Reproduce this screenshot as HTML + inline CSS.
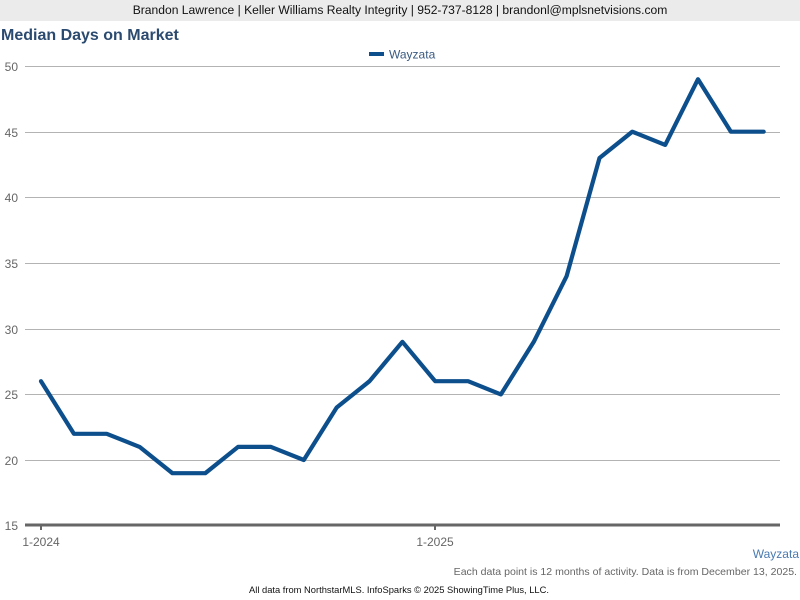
<!DOCTYPE html>
<html><head><meta charset="utf-8"><style>
html,body{margin:0;padding:0;background:#fff;}
body{width:800px;height:600px;overflow:hidden;position:relative;font-family:"Liberation Sans",Arial,sans-serif;}
.hdr{position:absolute;left:0;top:0;width:800px;height:21px;background:#ebebeb;text-align:center;font-size:12.1px;line-height:21px;color:#111;}
svg{position:absolute;left:0;top:0;}
</style></head><body>
<div class="hdr">Brandon Lawrence | Keller Williams Realty Integrity | 952-737-8128 | brandonl@mplsnetvisions.com</div>
<svg width="800" height="600" viewBox="0 0 800 600" font-family="Liberation Sans, Arial, sans-serif">
<text x="1" y="40" font-size="16" font-weight="bold" fill="#2b4a6f">Median Days on Market</text>
<rect x="369" y="52" width="15" height="4" fill="#0c4f8c"/>
<text x="389" y="58.5" font-size="12" fill="#3a5a80">Wayzata</text>
<g stroke="#b3b3b3" stroke-width="1">
<line x1="25" y1="66.5" x2="780" y2="66.5"/>
<line x1="25" y1="132.5" x2="780" y2="132.5"/>
<line x1="25" y1="197.5" x2="780" y2="197.5"/>
<line x1="25" y1="263.5" x2="780" y2="263.5"/>
<line x1="25" y1="329.5" x2="780" y2="329.5"/>
<line x1="25" y1="394.5" x2="780" y2="394.5"/>
<line x1="25" y1="460.5" x2="780" y2="460.5"/>
</g>
<g font-size="12" fill="#666" text-anchor="end">
<text x="18" y="71">50</text>
<text x="18" y="137">45</text>
<text x="18" y="202">40</text>
<text x="18" y="268">35</text>
<text x="18" y="334">30</text>
<text x="18" y="399">25</text>
<text x="18" y="465">20</text>
<text x="18" y="530">15</text>
</g>
<line x1="25" y1="525" x2="780" y2="525" stroke="#666" stroke-width="3"/>
<line x1="41" y1="525" x2="41" y2="530" stroke="#666" stroke-width="2"/>
<line x1="435" y1="525" x2="435" y2="530" stroke="#666" stroke-width="2"/>
<g font-size="12" fill="#666" text-anchor="middle">
<text x="41" y="546">1-2024</text>
<text x="435" y="546">1-2025</text>
</g>
<polyline fill="none" stroke="#0c4f8c" stroke-width="4.2" stroke-linejoin="round" stroke-linecap="round"
points="41,381.2 73.9,433.8 106.7,433.8 139.6,446.9 172.4,473.2 205.3,473.2 238.1,446.9 271,446.9 303.8,460 336.7,407.5 369.5,381.2 402.4,341.8 435.2,381.2 468.1,381.2 500.9,394.4 533.8,341.8 566.6,276.2 599.5,158 632.3,131.7 665.2,144.9 698,79.2 730.9,131.7 763.7,131.7"/>
<text x="799" y="558" font-size="12" fill="#4a7ab0" text-anchor="end">Wayzata</text>
<text x="797" y="575" font-size="10.55" fill="#666" text-anchor="end">Each data point is 12 months of activity. Data is from December 13, 2025.</text>
<text x="399" y="593" font-size="9.35" fill="#111" text-anchor="middle">All data from NorthstarMLS. InfoSparks © 2025 ShowingTime Plus, LLC.</text>
</svg>
</body></html>
